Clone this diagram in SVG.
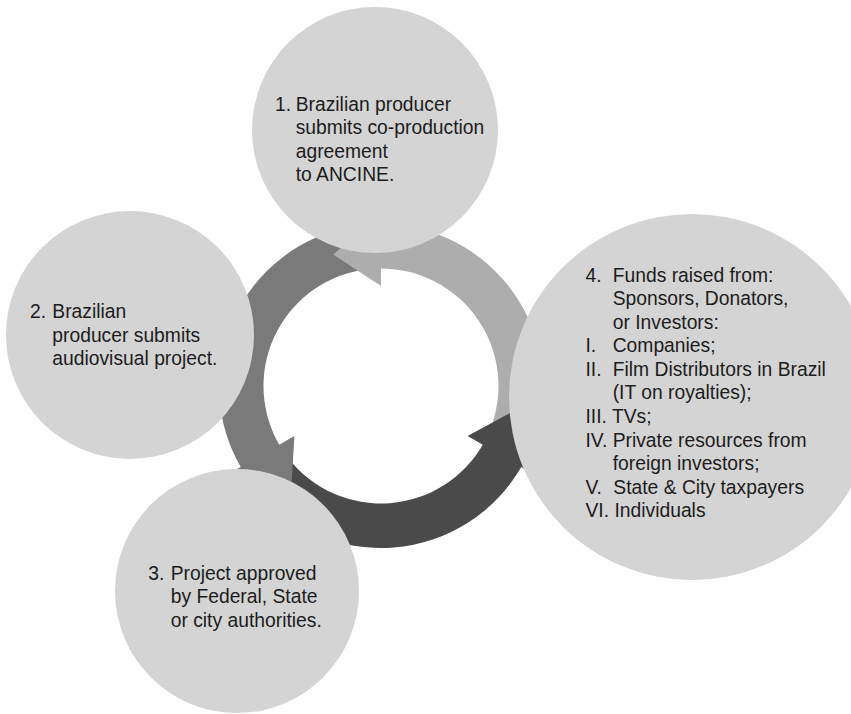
<svg xmlns="http://www.w3.org/2000/svg" width="851" height="714" viewBox="0 0 851 714">
  <style>
    .bubble { fill: #d4d4d4; }
    .label { font-family: "Liberation Sans", Arial, sans-serif; font-size: 19.3px; fill: #1c1c1c; }
    .light { fill: #adadad; }
    .medium { fill: #7a7a7a; }
    .dark { fill: #4a4a4a; }
  </style>
  <rect width="851" height="714" fill="#ffffff"/>

  <!-- circular arrows around centre (381,386): bodies first, then heads -->
  <g id="connectors">
    <path class="light" d="M531.20,446.69 A162,162 0 0 0 378.17,224.02 L378.95,268.52 A117.5,117.5 0 0 1 489.94,430.02 Z"/>
    <path class="medium" d="M352.87,226.46 A162,162 0 0 0 242.14,469.44 L280.28,446.52 A117.5,117.5 0 0 1 360.60,270.28 Z"/>
    <path class="dark" d="M253.34,485.74 A162,162 0 0 0 522.69,464.54 L483.77,442.97 A117.5,117.5 0 0 1 288.41,458.34 Z"/>
    <polygon class="light" points="381,214 333.12,254.44 381,286"/>
    <polygon class="medium" points="232.04,472 291.01,493.25 294.40,436"/>
    <polygon class="dark" points="529.96,472 519.28,407.90 467.60,436"/>
  </g>

  <g id="node1">
    <circle class="bubble" cx="375" cy="130" r="123"/>
    <text class="label" x="275" y="111">1.</text>
    <text class="label" x="295.7" y="111">Brazilian producer</text>
    <text class="label" x="295.7" y="134.3">submits co-production</text>
    <text class="label" x="295.7" y="157.6">agreement</text>
    <text class="label" x="295.7" y="180.9">to ANCINE.</text>
  </g>

  <g id="node2">
    <circle class="bubble" cx="130" cy="335" r="124"/>
    <text class="label" x="30" y="318.3">2.</text>
    <text class="label" x="52.3" y="318.3">Brazilian</text>
    <text class="label" x="52.3" y="341.6">producer submits</text>
    <text class="label" x="52.3" y="364.9">audiovisual project.</text>
  </g>

  <g id="node3">
    <circle class="bubble" cx="237" cy="591" r="122"/>
    <text class="label" x="148.3" y="580">3.</text>
    <text class="label" x="170.7" y="580">Project approved</text>
    <text class="label" x="170.7" y="603.3">by Federal, State</text>
    <text class="label" x="170.7" y="626.6">or city authorities.</text>
  </g>

  <g id="node4">
    <circle class="bubble" cx="692" cy="397" r="183"/>
    <text class="label" x="585.5" y="281.7">4.</text>
    <text class="label" x="612.7" y="281.7">Funds raised from:</text>
    <text class="label" x="612.7" y="305.25">Sponsors, Donators,</text>
    <text class="label" x="612.7" y="328.8">or Investors:</text>
    <text class="label" x="585.5" y="352.35">I.</text>
    <text class="label" x="612.7" y="352.35">Companies;</text>
    <text class="label" x="585.5" y="375.9">II.</text>
    <text class="label" x="612.7" y="375.9">Film Distributors in Brazil</text>
    <text class="label" x="612.7" y="399.45">(IT on royalties);</text>
    <text class="label" x="585.5" y="423">III. TVs;</text>
    <text class="label" x="585.5" y="446.55">IV. Private resources from</text>
    <text class="label" x="612.7" y="470.1">foreign investors;</text>
    <text class="label" x="585.5" y="493.65">V.</text>
    <text class="label" x="613.3" y="493.65">State &amp; City taxpayers</text>
    <text class="label" x="585.5" y="517.2">VI. Individuals</text>
  </g>
</svg>
